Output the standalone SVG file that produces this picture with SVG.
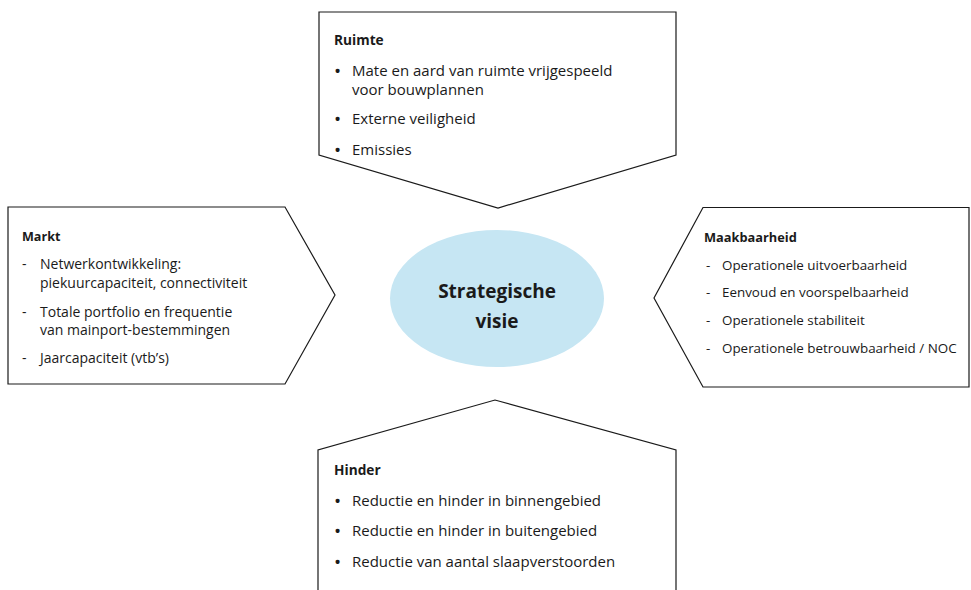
<svg xmlns="http://www.w3.org/2000/svg" width="971" height="590" viewBox="0 0 971 590">
<style>
.box{fill:#fff;stroke:#1a1a1a;stroke-width:1.2;stroke-linejoin:miter}
text{font-family:"Open Sans","Noto Sans","Liberation Sans",sans-serif;fill:#1a1a1a}
.t{font-weight:bold}
.big .t{font-size:13.7px}
.big .b{font-size:15px}
.big .d{font-size:19px}
.mk .t{font-size:12.6px}
.mk .b{font-size:14px}
.mb .t{font-size:12.8px}
.mb .b{font-size:13.4px}
.c{font-size:19px;font-weight:bold;text-anchor:middle}
</style>
<rect width="971" height="590" fill="#fff"/>
<g id="connectors"></g>
<g id="ruimte" class="big">
<path class="box" d="M319,12 L676,12 L676,155 L498,208 L319,155 Z"/>
<text class="t" x="334" y="45">Ruimte</text>
<text class="d" x="334" y="78">•</text><text class="b" x="352" y="76">Mate en aard van ruimte vrijgespeeld</text>
<text class="b" x="352" y="95">voor bouwplannen</text>
<text class="d" x="334" y="126">•</text><text class="b" x="352" y="124">Externe veiligheid</text>
<text class="d" x="334" y="157">•</text><text class="b" x="352" y="155">Emissies</text>
</g>
<g id="markt" class="mk">
<path class="box" d="M8,207 L285,207 L335,295 L285,384 L8,384 Z"/>
<text class="t" x="22" y="241">Markt</text>
<text class="b" x="22" y="269">-</text><text class="b" x="40" y="269">Netwerkontwikkeling:</text>
<text class="b" x="40" y="288">piekuurcapaciteit, connectiviteit</text>
<text class="b" x="22" y="317">-</text><text class="b" x="40" y="317">Totale portfolio en frequentie</text>
<text class="b" x="40" y="335">van mainport-bestemmingen</text>
<text class="b" x="22" y="363">-</text><text class="b" x="40" y="363">Jaarcapaciteit (vtb’s)</text>
</g>
<g id="maakbaarheid" class="mb">
<path class="box" d="M703,207.5 L969,207.5 L969,387 L703,387 L654,298 Z"/>
<text class="t" x="704" y="242">Maakbaarheid</text>
<text class="b" x="706" y="270">-</text><text class="b" x="722" y="270">Operationele uitvoerbaarheid</text>
<text class="b" x="706" y="297">-</text><text class="b" x="722" y="297">Eenvoud en voorspelbaarheid</text>
<text class="b" x="706" y="325">-</text><text class="b" x="722" y="325">Operationele stabiliteit</text>
<text class="b" x="706" y="353">-</text><text class="b" x="722" y="353">Operationele betrouwbaarheid / NOC</text>
</g>
<g id="hinder" class="big">
<path class="box" d="M318,600 L318,450 L495,400 L676,450 L676,600"/>
<text class="t" x="334" y="475">Hinder</text>
<text class="d" x="334" y="508">•</text><text class="b" x="352" y="506">Reductie en hinder in binnengebied</text>
<text class="d" x="334" y="538">•</text><text class="b" x="352" y="536">Reductie en hinder in buitengebied</text>
<text class="d" x="334" y="569">•</text><text class="b" x="352" y="567">Reductie van aantal slaapverstoorden</text>
</g>
<g id="strategische-visie">
<ellipse cx="497" cy="298.5" rx="107" ry="68.5" fill="#c6e6f3"/>
<text class="c" x="497" y="298">Strategische</text>
<text class="c" x="497" y="328">visie</text>
</g>
</svg>
